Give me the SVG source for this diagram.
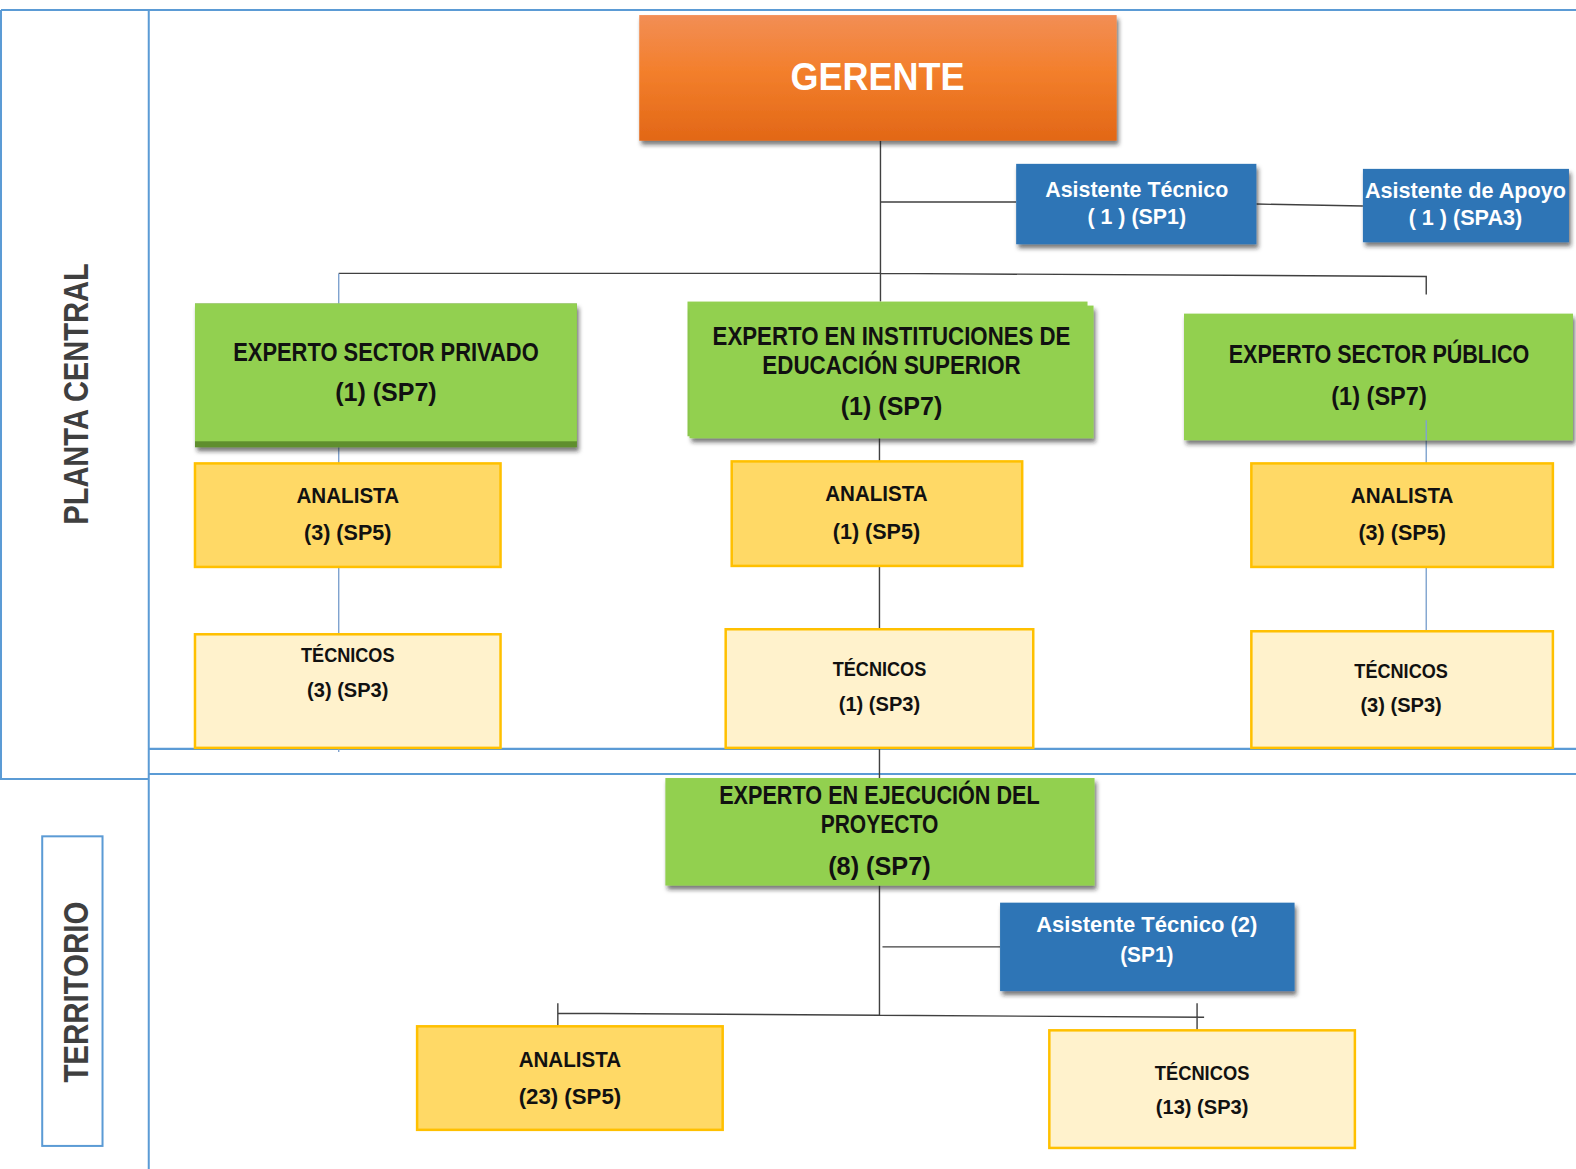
<svg xmlns="http://www.w3.org/2000/svg" width="1576" height="1169" viewBox="0 0 1576 1169">
<defs>
<linearGradient id="gOrange" x1="0" y1="0" x2="0" y2="1">
<stop offset="0" stop-color="#F28E55"/>
<stop offset="0.45" stop-color="#F37F2C"/>
<stop offset="1" stop-color="#E26716"/>
</linearGradient>
<filter id="sh" x="-5%" y="-10%" width="115%" height="130%">
<feDropShadow dx="2" dy="4" stdDeviation="2" flood-color="#222" flood-opacity="0.6"/>
</filter>
<style>
.frame{fill:none;stroke:#5B9BD5;stroke-width:2}
.lane{font-family:"Liberation Sans",Arial,sans-serif;font-weight:bold;fill:#3F3F3F;font-size:34px}
.t{font-family:"Liberation Sans Narrow","Liberation Sans",Arial,sans-serif;font-weight:bold;text-anchor:middle;fill:#111}
.w{fill:#fff}
.green{fill:#92D050}
.blue{fill:#2E75B6}
.ana{fill:#FFD966;stroke:#FFC000;stroke-width:2.5}
.tec{fill:#FFF2CC;stroke:#FFC000;stroke-width:2.5}
.c{fill:none;stroke:#404040;stroke-width:1.4}
.cb{fill:none;stroke:#7FA3CF;stroke-width:1.4}
.g{font-size:25px}
.a{font-size:22px}
.s{font-size:20px}
.b{font-size:22px}
</style>
</defs>
<rect width="1576" height="1169" fill="#fff"/>
<g transform="scale(1.0051 1.0052)">
<g id="frame">
<path class="frame" d="M1,10 H1568 M1,10 V775 H148 M148,10 V1163 M148,745 H1568 M148,770 H1568"/>
<rect class="frame" x="42" y="832" width="60" height="308"/>
<text class="lane" transform="translate(88,522) rotate(-90)" textLength="260" lengthAdjust="spacingAndGlyphs">PLANTA  CENTRAL</text>
<text class="lane" transform="translate(88,1077) rotate(-90)" textLength="180" lengthAdjust="spacingAndGlyphs">TERRITORIO</text>
</g>
<g id="connectors">
<path class="c" d="M876,140 V300 M876,201 H1011 M1250,203 L1356,205 M337,272 L876,272 L1419,275 V293"/>
<path class="cb" d="M337,272 V302 M337,445 V461 M337,564 V631 M337,744 V748"/>
<path class="c" d="M875,436 V459 M875,563 V626 M875,744 V774"/>
<path class="cb" d="M1419,438 V461 M1419,564 V628"/>
<path class="c" d="M875,881 V1010 M878,942 H995 M555,1008 L875,1010 L1198,1012 M555,998 V1021 M1191,998 V1025"/>
</g>
<g id="gerente">
<rect x="636" y="15" width="475" height="125" fill="url(#gOrange)" filter="url(#sh)"/>
<text class="t w" x="873" y="90" font-size="39" textLength="173" lengthAdjust="spacingAndGlyphs">GERENTE</text>
</g>
<g id="asistente-tecnico">
<rect class="blue" x="1011" y="163" width="239" height="80" filter="url(#sh)"/>
<text class="t w b" x="1131" y="196" textLength="182" lengthAdjust="spacingAndGlyphs">Asistente Técnico</text>
<text class="t w b" x="1131" y="223" textLength="98" lengthAdjust="spacingAndGlyphs">( 1 ) (SP1)</text>
</g>
<g id="asistente-apoyo">
<rect class="blue" x="1356" y="168" width="205" height="73" filter="url(#sh)"/>
<text class="t w b" x="1458" y="197" textLength="200" lengthAdjust="spacingAndGlyphs">Asistente de Apoyo</text>
<text class="t w b" x="1458" y="224" textLength="113" lengthAdjust="spacingAndGlyphs">( 1 ) (SPA3)</text>
</g>
<g id="experto-privado">
<rect x="194" y="302" width="380" height="143" fill="#5E8E2E" filter="url(#sh)"/>
<rect class="green" x="194" y="302" width="380" height="137"/>
<text class="t g" x="384" y="359" textLength="304" lengthAdjust="spacingAndGlyphs">EXPERTO SECTOR PRIVADO</text>
<text class="t g" x="384" y="399" textLength="101" lengthAdjust="spacingAndGlyphs">(1)  (SP7)</text>
</g>
<g id="experto-ies">
<rect class="green" x="684" y="300" width="398" height="134"/>
<rect class="green" x="686" y="304" width="402" height="132" filter="url(#sh)"/>
<text class="t g" x="887" y="343" textLength="356" lengthAdjust="spacingAndGlyphs">EXPERTO EN INSTITUCIONES DE</text>
<text class="t g" x="887" y="372" textLength="257" lengthAdjust="spacingAndGlyphs">EDUCACIÓN SUPERIOR</text>
<text class="t g" x="887" y="413" textLength="101" lengthAdjust="spacingAndGlyphs">(1)  (SP7)</text>
</g>
<g id="experto-publico">
<rect class="green" x="1178" y="312" width="387" height="126" filter="url(#sh)"/>
<text class="t g" x="1372" y="361" textLength="299" lengthAdjust="spacingAndGlyphs">EXPERTO SECTOR PÚBLICO</text>
<text class="t g" x="1372" y="403" textLength="95" lengthAdjust="spacingAndGlyphs">(1) (SP7)</text>
<path class="cb" d="M1419,418 V438"/>
</g>
<g id="analista-privado">
<rect class="ana" x="194" y="461" width="304" height="103"/>
<text class="t a" x="346" y="500" textLength="102" lengthAdjust="spacingAndGlyphs">ANALISTA</text>
<text class="t a" x="346" y="537" textLength="87" lengthAdjust="spacingAndGlyphs">(3) (SP5)</text>
</g>
<g id="analista-ies">
<rect class="ana" x="728" y="459" width="289" height="104"/>
<text class="t a" x="872" y="498" textLength="102" lengthAdjust="spacingAndGlyphs">ANALISTA</text>
<text class="t a" x="872" y="536" textLength="87" lengthAdjust="spacingAndGlyphs">(1) (SP5)</text>
</g>
<g id="analista-publico">
<rect class="ana" x="1245" y="461" width="300" height="103"/>
<text class="t a" x="1395" y="500" textLength="102" lengthAdjust="spacingAndGlyphs">ANALISTA</text>
<text class="t a" x="1395" y="537" textLength="87" lengthAdjust="spacingAndGlyphs">(3) (SP5)</text>
</g>
<g id="tecnicos-privado">
<rect class="tec" x="194" y="631" width="304" height="113"/>
<text class="t s" x="346" y="659" textLength="93" lengthAdjust="spacingAndGlyphs">TÉCNICOS</text>
<text class="t s" x="346" y="693" textLength="81" lengthAdjust="spacingAndGlyphs">(3) (SP3)</text>
</g>
<g id="tecnicos-ies">
<rect class="tec" x="722" y="626" width="306" height="118"/>
<text class="t s" x="875" y="673" textLength="93" lengthAdjust="spacingAndGlyphs">TÉCNICOS</text>
<text class="t s" x="875" y="707" textLength="81" lengthAdjust="spacingAndGlyphs">(1) (SP3)</text>
</g>
<g id="tecnicos-publico">
<rect class="tec" x="1245" y="628" width="300" height="116"/>
<text class="t s" x="1394" y="674" textLength="93" lengthAdjust="spacingAndGlyphs">TÉCNICOS</text>
<text class="t s" x="1394" y="708" textLength="81" lengthAdjust="spacingAndGlyphs">(3) (SP3)</text>
</g>
<g id="experto-ejecucion">
<rect class="green" x="662" y="774" width="427" height="107" filter="url(#sh)"/>
<text class="t g" x="875" y="800" textLength="319" lengthAdjust="spacingAndGlyphs">EXPERTO EN EJECUCIÓN DEL</text>
<text class="t g" x="875" y="829" textLength="117" lengthAdjust="spacingAndGlyphs">PROYECTO</text>
<text class="t g" x="875" y="870" textLength="102" lengthAdjust="spacingAndGlyphs">(8)  (SP7)</text>
</g>
<g id="asistente-tecnico-territorio">
<rect class="blue" x="995" y="898" width="293" height="88" filter="url(#sh)"/>
<text class="t w b" x="1141" y="927" textLength="220" lengthAdjust="spacingAndGlyphs">Asistente Técnico  (2)</text>
<text class="t w b" x="1141" y="957" textLength="53" lengthAdjust="spacingAndGlyphs">(SP1)</text>
</g>
<g id="analista-territorio">
<rect class="ana" x="415" y="1021" width="304" height="103"/>
<text class="t a" x="567" y="1061" textLength="102" lengthAdjust="spacingAndGlyphs">ANALISTA</text>
<text class="t a" x="567" y="1098" textLength="102" lengthAdjust="spacingAndGlyphs">(23) (SP5)</text>
</g>
<g id="tecnicos-territorio">
<rect class="tec" x="1044" y="1025" width="304" height="117"/>
<text class="t s" x="1196" y="1074" textLength="94" lengthAdjust="spacingAndGlyphs">TÉCNICOS</text>
<text class="t s" x="1196" y="1108" textLength="92" lengthAdjust="spacingAndGlyphs">(13) (SP3)</text>
</g>
</g>
</svg>
